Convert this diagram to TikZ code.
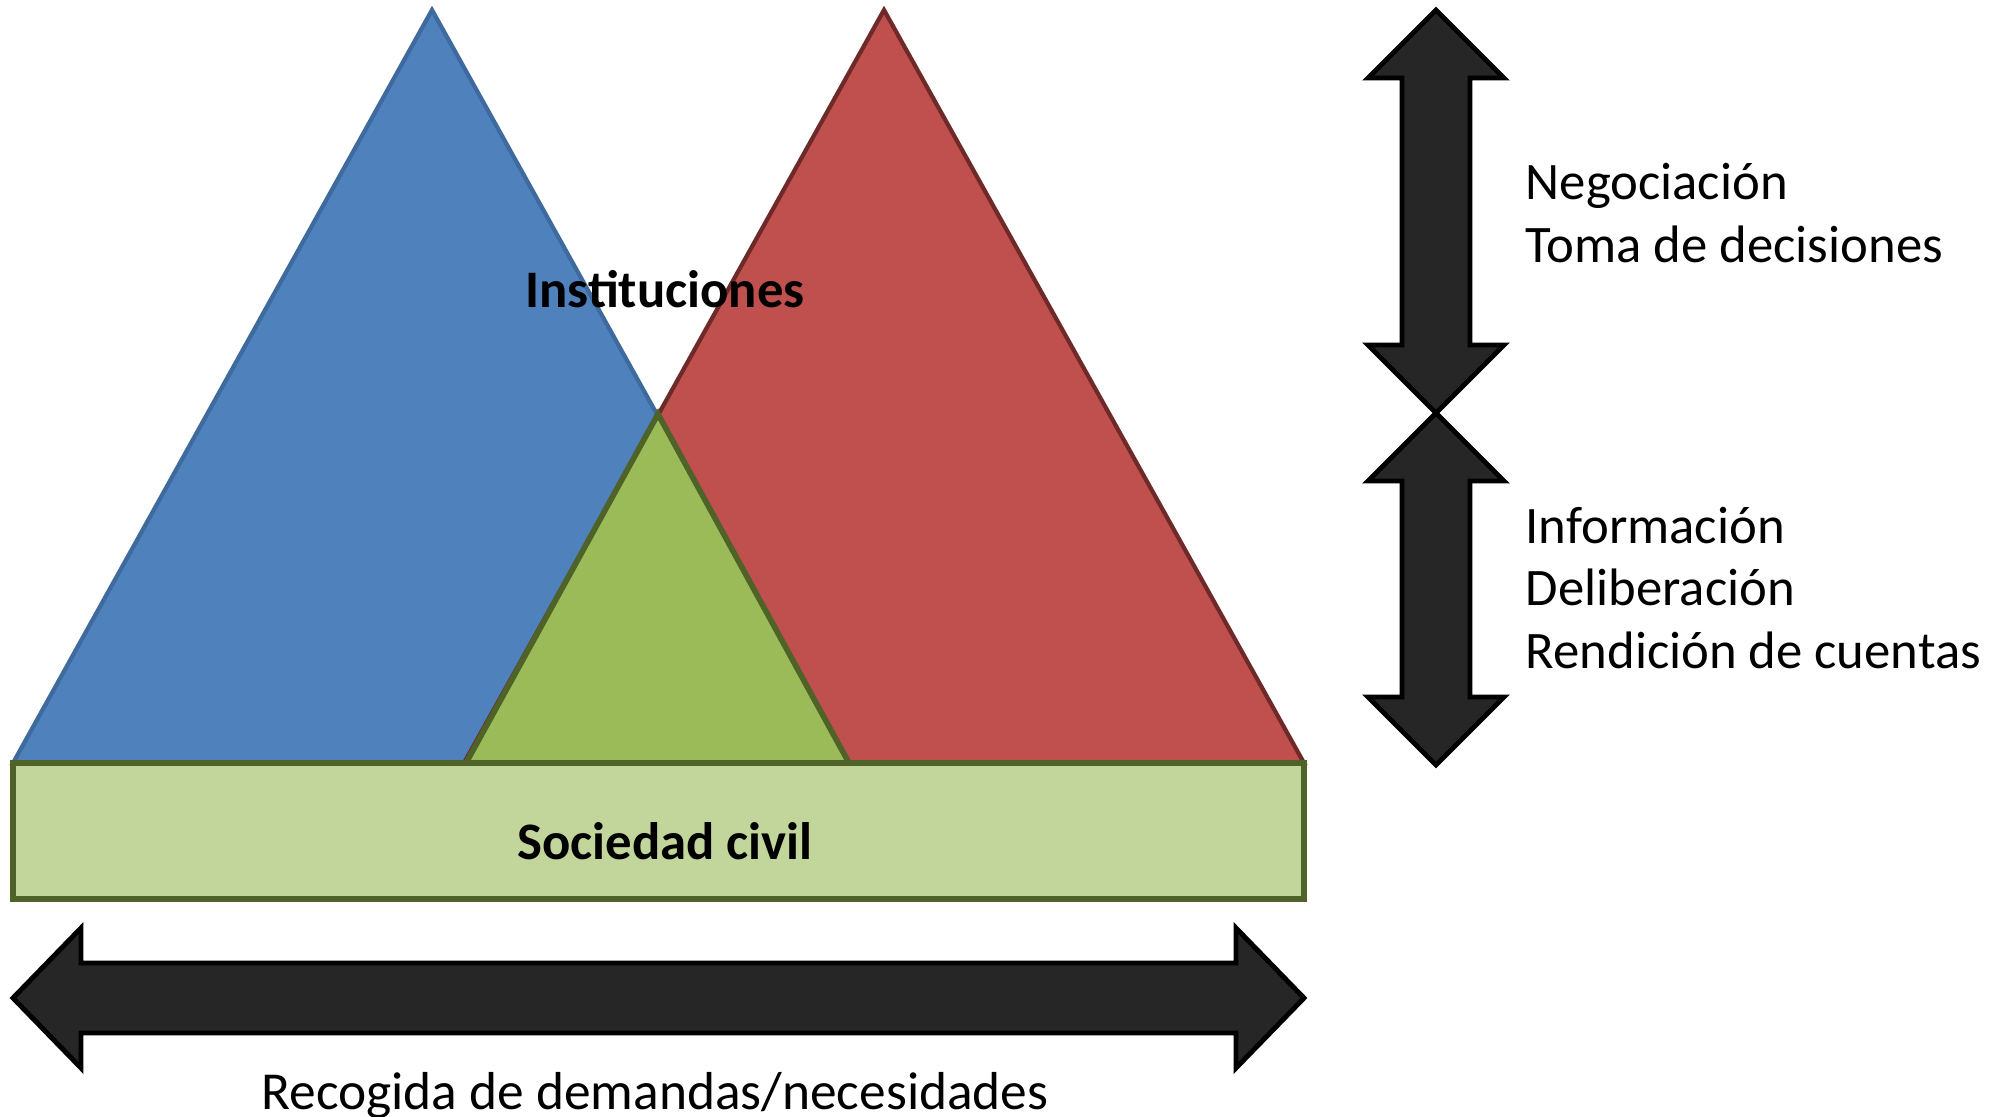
\documentclass[tikz,border=0pt]{standalone}
\usepackage{fontspec}
\setmainfont{Carlito}
\usepackage{tikz}
\usetikzlibrary{positioning}
\definecolor{OFblue}{HTML}{4F81BD}
\definecolor{OFblueline}{HTML}{3F6A9E}
\definecolor{OFred}{HTML}{C0504D}
\definecolor{OFredline}{HTML}{6E2A28}
\definecolor{OFgreen}{HTML}{9BBB59}
\definecolor{OFgreenline}{HTML}{4F6228}
\definecolor{OFlight}{HTML}{C2D59A}
\definecolor{OFdark}{HTML}{262626}
\tikzset{every path/.style={line join=miter}}
\begin{document}
\begin{tikzpicture}[
    tri/.style={
        line width=1.2pt
    },
    bar/.style={
        fill=OFlight,
        draw=OFgreenline,
        line width=1.6pt
    },
    bigarrow/.style={
        fill=OFdark,
        draw=black,
        line width=1.4pt
    },
    title/.style={
        font=\fontsize{15}{18}\selectfont\bfseries
    },
    note/.style={
        align=left,
        anchor=west,
        inner sep=0pt,
        font=\fontsize{15}{17.8}\selectfont
    }
]
\useasboundingbox (0,0) rectangle (20.05,11.16);

% triangles
\draw[tri, fill=OFblue, draw=OFblueline] (0.13,3.53) -- (4.32,11.06) -- (8.51,3.53) -- cycle;
\draw[tri, fill=OFred, draw=OFredline] (4.64,3.53) -- (8.84,11.06) -- (13.04,3.53) -- cycle;
\draw[tri, fill=OFgreen, draw=OFgreenline, line width=1.6pt] (4.66,3.53) -- (6.58,7.02) -- (8.49,3.53) -- cycle;

% base
\draw[bar] (0.13,2.17) rectangle (13.04,3.53);

\node[title] (inst) at (6.65,8.27) {Instituciones};
\node[title] (soc) at (6.65,2.75) {Sociedad civil};

% horizontal arrow
\draw[bigarrow] (0.13,1.18) -- (0.81,1.88) -- (0.81,1.53) -- (12.36,1.53) -- (12.36,1.88)
    -- (13.04,1.18) -- (12.36,0.48) -- (12.36,0.83) -- (0.81,0.83) -- (0.81,0.48) -- cycle;
\node[font=\fontsize{15.2}{18}\selectfont] (recog) at (6.55,0.2) {Recogida de demandas/necesidades};

% vertical arrows
\draw[bigarrow] (14.36,11.06) -- (15.04,10.38) -- (14.70,10.38) -- (14.70,7.71) -- (15.04,7.71)
    -- (14.36,7.03) -- (13.68,7.71) -- (14.02,7.71) -- (14.02,10.38) -- (13.68,10.38) -- cycle;
\draw[bigarrow] (14.36,7.03) -- (15.04,6.35) -- (14.70,6.35) -- (14.70,4.19) -- (15.04,4.19)
    -- (14.36,3.51) -- (13.68,4.19) -- (14.02,4.19) -- (14.02,6.35) -- (13.68,6.35) -- cycle;

\node[note] (neg) at (15.25,9.03) {Negociación\\Toma de decisiones};
\node[note] (inf) at (15.25,5.28) {Información\\Deliberación\\Rendición de cuentas};

\end{tikzpicture}
\end{document}
